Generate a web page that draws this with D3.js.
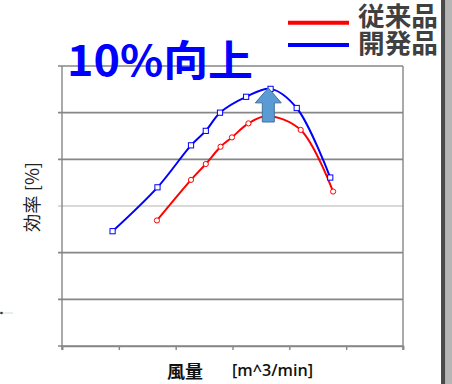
<!DOCTYPE html>
<html>
<head>
<meta charset="utf-8">
<script src="https://cdn.jsdelivr.net/npm/d3@7/dist/d3.min.js"></script>
<style>
  html, body { margin: 0; padding: 0; background: #fff; }
  svg { display: block; }
</style>
</head>
<body>
<svg id="chart" width="452" height="384"></svg>
<script>
// ---- data ----
const seriesNames = ["従来品", "開発品"];
const seriesColors = ["#ff0000", "#0000ff"];
const conventionalX = [16.7, 22.7, 25.3, 27.9, 29.9, 32.8, 36.1, 42.0, 47.7];
const conventionalY = [26.9, 35.6, 39.0, 42.7, 44.7, 47.7, 49.3, 46.3, 33.1];
const developedX = [8.9, 16.8, 22.7, 25.3, 27.8, 32.4, 36.7, 41.3, 47.2];
const developedY = [24.6, 34.0, 43.0, 46.1, 50.0, 53.4, 55.1, 51.0, 36.1];
const xTicks = [0, 10, 20, 30, 40, 50, 60];
const yTicks = [0, 10, 20, 30, 40, 50, 60];
const titleText = "10%向上";
const yLabel = "効率 [%]";
const xLabelMain = "風量";
const xLabelUnit = "[m^3/min]";
// annotation arrow (data units)
const arrowX = 36.3, arrowBottom = 48.0, arrowHeadBase = 52.1, arrowTip = 55.3;

const svg = d3.select("#chart");
const W = 452, H = 384;
const plot = { left: 62, right: 403, top: 66, bottom: 346 };

svg.append("rect").attr("width", W).attr("height", H).attr("fill", "#fff");

const x = d3.scaleLinear().domain([0, 60]).range([plot.left, plot.right]);
const y = d3.scaleLinear().domain([0, 60]).range([plot.bottom, plot.top]);

// gridlines
const grid = svg.append("g");
grid.selectAll("line").data(yTicks).join("line")
  .attr("x1", plot.left - 4).attr("x2", plot.right)
  .attr("y1", d => y(d)).attr("y2", d => y(d))
  .attr("stroke", d => d === 30 ? "#d9d9d9" : "#868686")
  .attr("stroke-width", d => d === 30 ? 2.2 : 1.6);

// frame verticals
svg.append("line").attr("x1", plot.left).attr("x2", plot.left)
  .attr("y1", plot.top).attr("y2", plot.bottom + 4)
  .attr("stroke", "#868686").attr("stroke-width", 1.4);
svg.append("line").attr("x1", plot.right).attr("x2", plot.right)
  .attr("y1", plot.top).attr("y2", plot.bottom + 4)
  .attr("stroke", "#868686").attr("stroke-width", 1.4);

// x axis ticks
const xAxis = d3.axisBottom(x).tickValues(xTicks).tickSize(4).tickFormat("");
const gx = svg.append("g").attr("transform", `translate(0,${plot.bottom})`).call(xAxis);
gx.select(".domain").attr("stroke", "#868686").attr("stroke-width", 1.6);
gx.selectAll(".tick line").attr("stroke", "#868686").attr("stroke-width", 1.4);

// series
const series = [
  { name: seriesNames[0], color: seriesColors[0], xs: conventionalX, ys: conventionalY, marker: "circle" },
  { name: seriesNames[1], color: seriesColors[1], xs: developedX, ys: developedY, marker: "square" }
];
const line = d3.line().x(d => x(d[0])).y(d => y(d[1])).curve(d3.curveCatmullRom.alpha(0.5));
series.forEach(s => {
  const pts = s.xs.map((v, i) => [v, s.ys[i]]);
  svg.append("path").attr("d", line(pts)).attr("fill", "none")
    .attr("stroke", s.color).attr("stroke-width", 2);
  const g = svg.append("g");
  if (s.marker === "circle") {
    g.selectAll("circle").data(pts).join("circle")
      .attr("cx", d => x(d[0])).attr("cy", d => y(d[1])).attr("r", 2.6)
      .attr("fill", "#fff").attr("stroke", s.color).attr("stroke-width", 1);
  } else {
    g.selectAll("rect").data(pts).join("rect")
      .attr("x", d => x(d[0]) - 2.6).attr("y", d => y(d[1]) - 2.6)
      .attr("width", 5.2).attr("height", 5.2)
      .attr("fill", "#fff").attr("stroke", s.color).attr("stroke-width", 1);
  }
});

// arrow annotation
const ax = x(arrowX);
const arrowPts = [
  [ax - 6, y(arrowBottom)], [ax - 6, y(arrowHeadBase)], [ax - 13, y(arrowHeadBase)],
  [ax, y(arrowTip)], [ax + 13, y(arrowHeadBase)], [ax + 6, y(arrowHeadBase)],
  [ax + 6, y(arrowBottom)]
];
svg.append("polygon").attr("points", arrowPts.map(p => p.join(",")).join(" "))
  .attr("fill", "#5b9bd5").attr("stroke", "#41719c").attr("stroke-width", 1);

// title
svg.append("text").attr("x", 67).attr("y", 57.5)
  .attr("dominant-baseline", "central")
  .attr("font-family", "'Noto Sans CJK JP', sans-serif")
  .attr("font-weight", "bold").attr("font-size", 42)
  .attr("textLength", 186).attr("lengthAdjust", "spacingAndGlyphs")
  .attr("fill", "#0000ff").text(titleText);

// legend
const legendLineY = [22.7, 45];
series.forEach((s, i) => {
  svg.append("line").attr("x1", 288).attr("x2", 349)
    .attr("y1", legendLineY[i]).attr("y2", legendLineY[i])
    .attr("stroke", s.color).attr("stroke-width", 4);
});
const legendText = svg.append("text")
  .attr("font-family", "'Noto Sans CJK JP', sans-serif")
  .attr("font-weight", "bold").attr("font-size", 26)
  .attr("fill", "#404040");
series.forEach((s, i) => {
  legendText.append("tspan").attr("x", 358).attr("y", i === 0 ? 26 : 52.5)
    .attr("textLength", 80).attr("lengthAdjust", "spacingAndGlyphs")
    .text(s.name);
});

// y label
svg.append("text")
  .attr("transform", "translate(31,197) rotate(-90)")
  .attr("text-anchor", "middle").attr("dominant-baseline", "central")
  .attr("font-family", "'Noto Sans CJK JP', sans-serif")
  .attr("font-size", 18).attr("fill", "#222")
  .attr("textLength", 70).attr("lengthAdjust", "spacingAndGlyphs")
  .text(yLabel);

// x label
svg.append("text").attr("x", 167).attr("y", 370)
  .attr("dominant-baseline", "central")
  .attr("font-family", "'Noto Sans CJK JP', sans-serif")
  .attr("font-weight", "bold").attr("font-size", 17)
  .attr("textLength", 36).attr("lengthAdjust", "spacingAndGlyphs")
  .attr("fill", "#111").text(xLabelMain);
svg.append("text").attr("x", 232).attr("y", 370)
  .attr("dominant-baseline", "central")
  .attr("font-family", "'Open Sans', sans-serif")
  .attr("font-weight", 600).attr("font-size", 16)
  .attr("textLength", 81).attr("lengthAdjust", "spacingAndGlyphs")
  .attr("fill", "#111").text(xLabelUnit);

// stray fragment at left edge
svg.append("line").attr("x1", 0).attr("x2", 13).attr("y1", 313).attr("y2", 313)
  .attr("stroke", "#cfe0cf").attr("stroke-width", 1);
svg.append("circle").attr("cx", 1.5).attr("cy", 313).attr("r", 1.3).attr("fill", "#334");

// right-hand window border
svg.append("rect").attr("x", 441).attr("y", 0).attr("width", 4.5).attr("height", H).attr("fill", "#4a4a4a");
svg.append("rect").attr("x", 445.5).attr("y", 0).attr("width", 6.5).attr("height", H).attr("fill", "#b5b5b5");
</script>
</body>
</html>
